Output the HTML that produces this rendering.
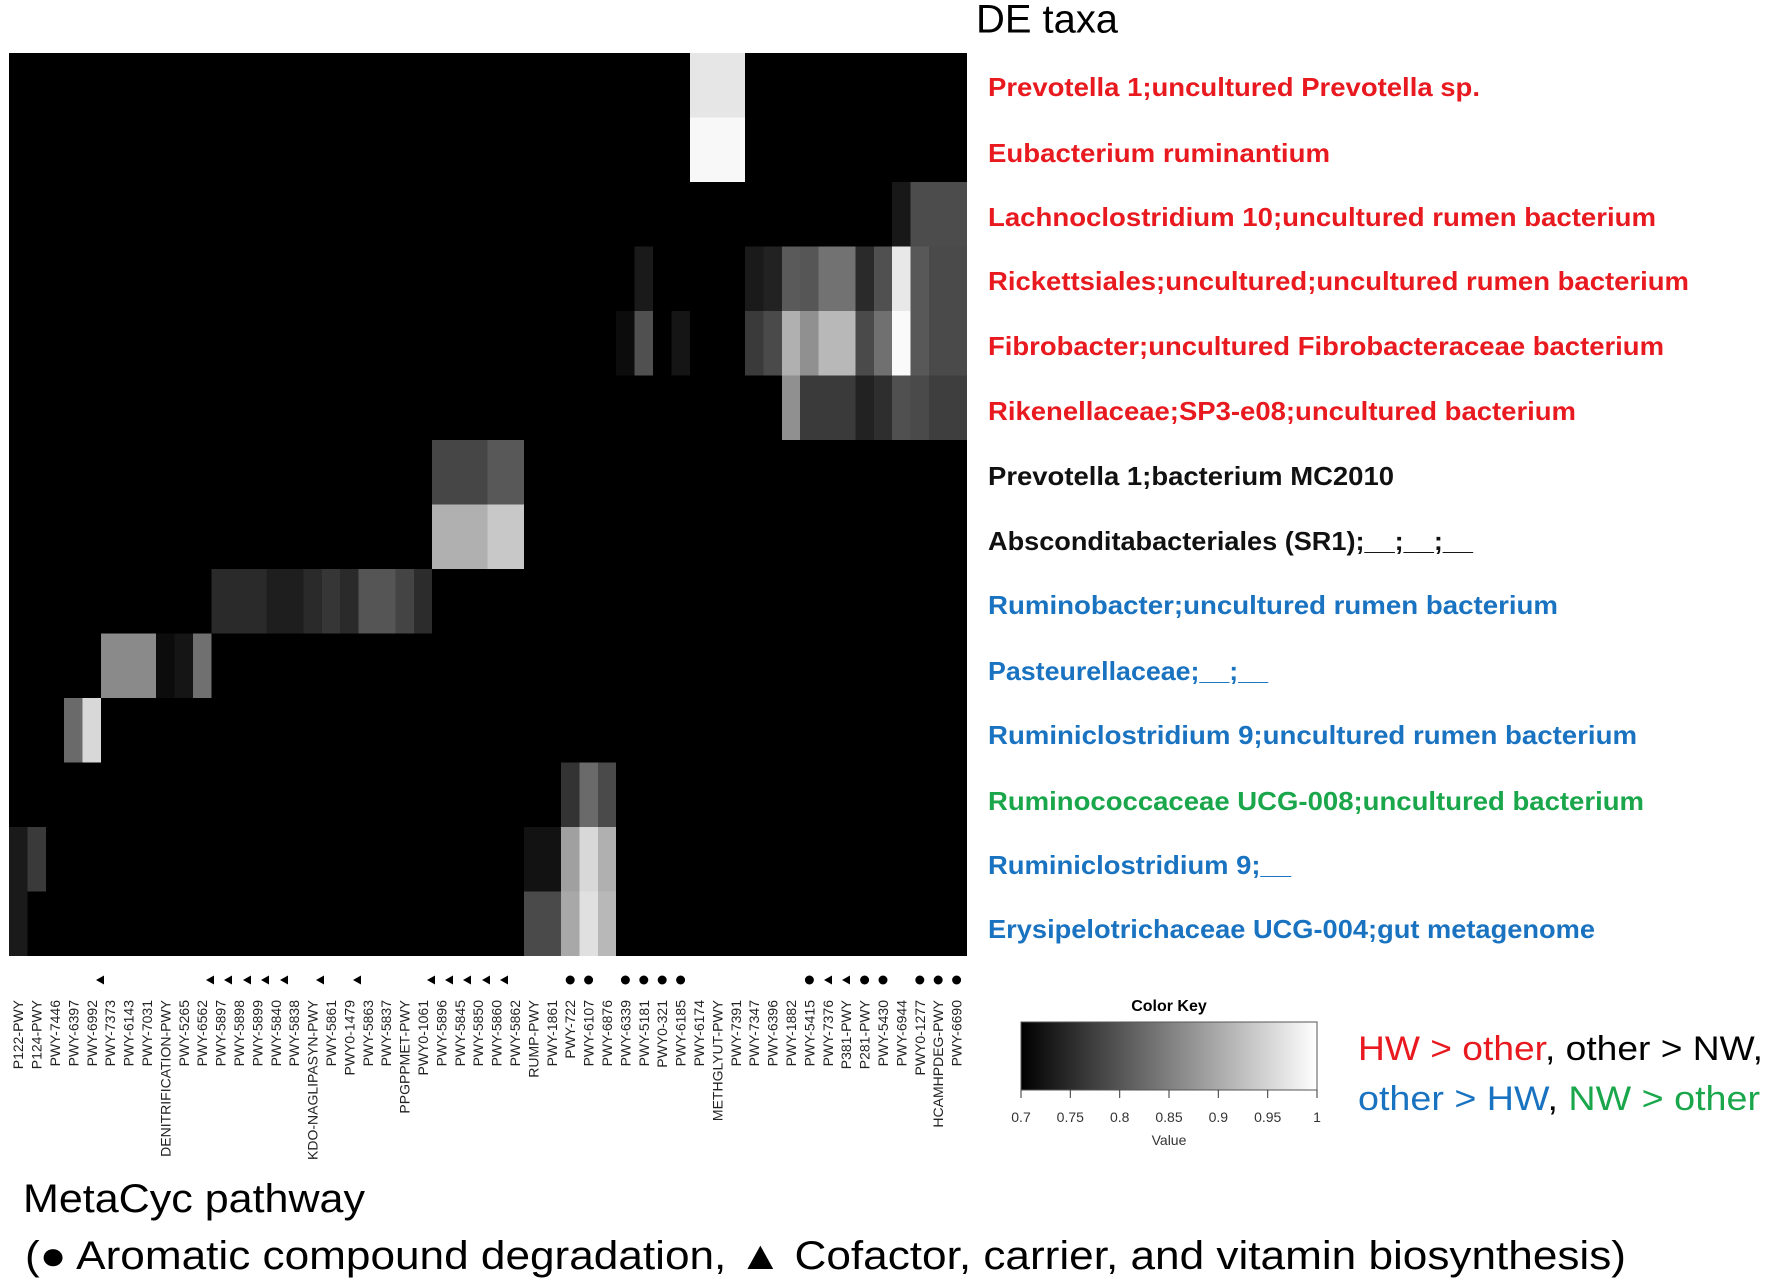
<!DOCTYPE html>
<html><head><meta charset="utf-8"><style>
html,body{margin:0;padding:0;background:#fff;}
svg{display:block;}
</style></head><body>
<svg width="1770" height="1282" viewBox="0 0 1770 1282" xmlns="http://www.w3.org/2000/svg" font-family="Liberation Sans, Arial, sans-serif">
<rect x="0" y="0" width="1770" height="1282" fill="#fff"/>
<rect x="9" y="53" width="958" height="903" fill="#000"/>
<g shape-rendering="crispEdges">
<rect x="689.8" y="53" width="55.2" height="64.5" fill="#e6e6e6"/>
<rect x="689.8" y="117.5" width="55.2" height="64.5" fill="#f8f8f8"/>
<rect x="892.2" y="182" width="18.4" height="64.5" fill="#181818"/>
<rect x="910.6" y="182" width="56.4" height="64.5" fill="#4c4c4c"/>
<rect x="634.6" y="246.5" width="18.4" height="64.5" fill="#1a1a1a"/>
<rect x="745" y="246.5" width="18.4" height="64.5" fill="#1a1a1a"/>
<rect x="763.4" y="246.5" width="18.4" height="64.5" fill="#222"/>
<rect x="781.8" y="246.5" width="18.4" height="64.5" fill="#5a5a5a"/>
<rect x="800.2" y="246.5" width="18.4" height="64.5" fill="#565656"/>
<rect x="818.6" y="246.5" width="36.8" height="64.5" fill="#727272"/>
<rect x="855.4" y="246.5" width="18.4" height="64.5" fill="#2a2a2a"/>
<rect x="873.8" y="246.5" width="18.4" height="64.5" fill="#505050"/>
<rect x="892.2" y="246.5" width="18.4" height="64.5" fill="#e8e8e8"/>
<rect x="910.6" y="246.5" width="18.4" height="64.5" fill="#585858"/>
<rect x="929" y="246.5" width="38" height="64.5" fill="#4a4a4a"/>
<rect x="616.2" y="311" width="18.4" height="64.5" fill="#0c0c0c"/>
<rect x="634.6" y="311" width="18.4" height="64.5" fill="#505050"/>
<rect x="671.4" y="311" width="18.4" height="64.5" fill="#151515"/>
<rect x="745" y="311" width="18.4" height="64.5" fill="#3a3a3a"/>
<rect x="763.4" y="311" width="18.4" height="64.5" fill="#4a4a4a"/>
<rect x="781.8" y="311" width="18.4" height="64.5" fill="#b0b0b0"/>
<rect x="800.2" y="311" width="18.4" height="64.5" fill="#909090"/>
<rect x="818.6" y="311" width="36.8" height="64.5" fill="#b8b8b8"/>
<rect x="855.4" y="311" width="18.4" height="64.5" fill="#4a4a4a"/>
<rect x="873.8" y="311" width="18.4" height="64.5" fill="#707070"/>
<rect x="892.2" y="311" width="18.4" height="64.5" fill="#fafafa"/>
<rect x="910.6" y="311" width="18.4" height="64.5" fill="#585858"/>
<rect x="929" y="311" width="38" height="64.5" fill="#4a4a4a"/>
<rect x="781.8" y="375.5" width="18.4" height="64.5" fill="#909090"/>
<rect x="800.2" y="375.5" width="55.2" height="64.5" fill="#3a3a3a"/>
<rect x="855.4" y="375.5" width="18.4" height="64.5" fill="#222"/>
<rect x="873.8" y="375.5" width="18.4" height="64.5" fill="#2e2e2e"/>
<rect x="892.2" y="375.5" width="18.4" height="64.5" fill="#505050"/>
<rect x="910.6" y="375.5" width="18.4" height="64.5" fill="#4a4a4a"/>
<rect x="929" y="375.5" width="38" height="64.5" fill="#3e3e3e"/>
<rect x="432.2" y="440" width="55.2" height="64.5" fill="#464646"/>
<rect x="487.4" y="440" width="36.8" height="64.5" fill="#585858"/>
<rect x="432.2" y="504.5" width="55.2" height="64.5" fill="#b0b0b0"/>
<rect x="487.4" y="504.5" width="36.8" height="64.5" fill="#c8c8c8"/>
<rect x="211.4" y="569" width="55.2" height="64.5" fill="#2a2a2a"/>
<rect x="266.6" y="569" width="36.8" height="64.5" fill="#1e1e1e"/>
<rect x="303.4" y="569" width="18.4" height="64.5" fill="#2a2a2a"/>
<rect x="321.8" y="569" width="18.4" height="64.5" fill="#363636"/>
<rect x="340.2" y="569" width="18.4" height="64.5" fill="#2a2a2a"/>
<rect x="358.6" y="569" width="36.8" height="64.5" fill="#555"/>
<rect x="395.4" y="569" width="18.4" height="64.5" fill="#444"/>
<rect x="413.8" y="569" width="18.4" height="64.5" fill="#2c2c2c"/>
<rect x="101" y="633.5" width="55.2" height="64.5" fill="#8a8a8a"/>
<rect x="156.2" y="633.5" width="18.4" height="64.5" fill="#0c0c0c"/>
<rect x="174.6" y="633.5" width="18.4" height="64.5" fill="#151515"/>
<rect x="193" y="633.5" width="18.4" height="64.5" fill="#707070"/>
<rect x="64.2" y="698" width="18.4" height="64.5" fill="#6a6a6a"/>
<rect x="82.6" y="698" width="18.4" height="64.5" fill="#d8d8d8"/>
<rect x="561" y="762.5" width="18.4" height="64.5" fill="#333"/>
<rect x="579.4" y="762.5" width="18.4" height="64.5" fill="#6a6a6a"/>
<rect x="597.8" y="762.5" width="18.4" height="64.5" fill="#4a4a4a"/>
<rect x="9" y="827" width="18.4" height="64.5" fill="#1a1a1a"/>
<rect x="27.4" y="827" width="18.4" height="64.5" fill="#3a3a3a"/>
<rect x="524.2" y="827" width="36.8" height="64.5" fill="#121212"/>
<rect x="561" y="827" width="18.4" height="64.5" fill="#a0a0a0"/>
<rect x="579.4" y="827" width="18.4" height="64.5" fill="#d8d8d8"/>
<rect x="597.8" y="827" width="18.4" height="64.5" fill="#b0b0b0"/>
<rect x="9" y="891.5" width="18.4" height="64.5" fill="#1a1a1a"/>
<rect x="524.2" y="891.5" width="36.8" height="64.5" fill="#4a4a4a"/>
<rect x="561" y="891.5" width="18.4" height="64.5" fill="#a8a8a8"/>
<rect x="579.4" y="891.5" width="18.4" height="64.5" fill="#e0e0e0"/>
<rect x="597.8" y="891.5" width="18.4" height="64.5" fill="#b8b8b8"/>
</g>

<g fill="#000">
<polygon points="96,980 104,975.5 104,984.5"/>
<polygon points="206,980 214,975.5 214,984.5"/>
<polygon points="224,980 232,975.5 232,984.5"/>
<polygon points="243,980 251,975.5 251,984.5"/>
<polygon points="261,980 269,975.5 269,984.5"/>
<polygon points="280,980 288,975.5 288,984.5"/>
<polygon points="316,980 324,975.5 324,984.5"/>
<polygon points="353,980 361,975.5 361,984.5"/>
<polygon points="427,980 435,975.5 435,984.5"/>
<polygon points="445,980 453,975.5 453,984.5"/>
<polygon points="463,980 471,975.5 471,984.5"/>
<polygon points="482,980 490,975.5 490,984.5"/>
<polygon points="500,980 508,975.5 508,984.5"/>
<circle cx="570.2" cy="980" r="4.5"/>
<circle cx="588.6" cy="980" r="4.5"/>
<circle cx="625.4" cy="980" r="4.5"/>
<circle cx="643.8" cy="980" r="4.5"/>
<circle cx="662.2" cy="980" r="4.5"/>
<circle cx="680.6" cy="980" r="4.5"/>
<circle cx="809.4" cy="980" r="4.5"/>
<polygon points="824,980 832,975.5 832,984.5"/>
<polygon points="842,980 850,975.5 850,984.5"/>
<circle cx="864.6" cy="980" r="4.5"/>
<circle cx="883" cy="980" r="4.5"/>
<circle cx="919.8" cy="980" r="4.5"/>
<circle cx="938.2" cy="980" r="4.5"/>
<circle cx="956.6" cy="980" r="4.5"/>
</g>

<g font-size="14" fill="#222" text-anchor="end">
<text transform="translate(23.2,1000) rotate(-90)">P122-PWY</text>
<text transform="translate(41.6,1000) rotate(-90)">P124-PWY</text>
<text transform="translate(60,1000) rotate(-90)">PWY-7446</text>
<text transform="translate(78.4,1000) rotate(-90)">PWY-6397</text>
<text transform="translate(96.8,1000) rotate(-90)">PWY-6992</text>
<text transform="translate(115.2,1000) rotate(-90)">PWY-7373</text>
<text transform="translate(133.6,1000) rotate(-90)">PWY-6143</text>
<text transform="translate(152,1000) rotate(-90)">PWY-7031</text>
<text transform="translate(170.4,1000) rotate(-90)">DENITRIFICATION-PWY</text>
<text transform="translate(188.8,1000) rotate(-90)">PWY-5265</text>
<text transform="translate(207.2,1000) rotate(-90)">PWY-6562</text>
<text transform="translate(225.6,1000) rotate(-90)">PWY-5897</text>
<text transform="translate(244,1000) rotate(-90)">PWY-5898</text>
<text transform="translate(262.4,1000) rotate(-90)">PWY-5899</text>
<text transform="translate(280.8,1000) rotate(-90)">PWY-5840</text>
<text transform="translate(299.2,1000) rotate(-90)">PWY-5838</text>
<text transform="translate(317.6,1000) rotate(-90)">KDO-NAGLIPASYN-PWY</text>
<text transform="translate(336,1000) rotate(-90)">PWY-5861</text>
<text transform="translate(354.4,1000) rotate(-90)">PWY0-1479</text>
<text transform="translate(372.8,1000) rotate(-90)">PWY-5863</text>
<text transform="translate(391.2,1000) rotate(-90)">PWY-5837</text>
<text transform="translate(409.6,1000) rotate(-90)">PPGPPMET-PWY</text>
<text transform="translate(428,1000) rotate(-90)">PWY0-1061</text>
<text transform="translate(446.4,1000) rotate(-90)">PWY-5896</text>
<text transform="translate(464.8,1000) rotate(-90)">PWY-5845</text>
<text transform="translate(483.2,1000) rotate(-90)">PWY-5850</text>
<text transform="translate(501.6,1000) rotate(-90)">PWY-5860</text>
<text transform="translate(520,1000) rotate(-90)">PWY-5862</text>
<text transform="translate(538.4,1000) rotate(-90)">RUMP-PWY</text>
<text transform="translate(556.8,1000) rotate(-90)">PWY-1861</text>
<text transform="translate(575.2,1000) rotate(-90)">PWY-722</text>
<text transform="translate(593.6,1000) rotate(-90)">PWY-6107</text>
<text transform="translate(612,1000) rotate(-90)">PWY-6876</text>
<text transform="translate(630.4,1000) rotate(-90)">PWY-6339</text>
<text transform="translate(648.8,1000) rotate(-90)">PWY-5181</text>
<text transform="translate(667.2,1000) rotate(-90)">PWY0-321</text>
<text transform="translate(685.6,1000) rotate(-90)">PWY-6185</text>
<text transform="translate(704,1000) rotate(-90)">PWY-6174</text>
<text transform="translate(722.4,1000) rotate(-90)">METHGLYUT-PWY</text>
<text transform="translate(740.8,1000) rotate(-90)">PWY-7391</text>
<text transform="translate(759.2,1000) rotate(-90)">PWY-7347</text>
<text transform="translate(777.6,1000) rotate(-90)">PWY-6396</text>
<text transform="translate(796,1000) rotate(-90)">PWY-1882</text>
<text transform="translate(814.4,1000) rotate(-90)">PWY-5415</text>
<text transform="translate(832.8,1000) rotate(-90)">PWY-7376</text>
<text transform="translate(851.2,1000) rotate(-90)">P381-PWY</text>
<text transform="translate(869.6,1000) rotate(-90)">P281-PWY</text>
<text transform="translate(888,1000) rotate(-90)">PWY-5430</text>
<text transform="translate(906.4,1000) rotate(-90)">PWY-6944</text>
<text transform="translate(924.8,1000) rotate(-90)">PWY0-1277</text>
<text transform="translate(943.2,1000) rotate(-90)">HCAMHPDEG-PWY</text>
<text transform="translate(961.6,1000) rotate(-90)">PWY-6690</text>
</g>

<text x="976" y="22" font-size="40" fill="#000" dominant-baseline="middle" textLength="142" lengthAdjust="spacingAndGlyphs">DE taxa</text>
<g font-size="26" font-weight="bold" dominant-baseline="middle">
<text x="988" y="89" fill="#e8191f" textLength="492" lengthAdjust="spacingAndGlyphs">Prevotella 1;uncultured Prevotella sp.</text>
<text x="988" y="155" fill="#e8191f" textLength="342" lengthAdjust="spacingAndGlyphs">Eubacterium ruminantium</text>
<text x="988" y="219" fill="#e8191f" textLength="668" lengthAdjust="spacingAndGlyphs">Lachnoclostridium 10;uncultured rumen bacterium</text>
<text x="988" y="283" fill="#e8191f" textLength="701" lengthAdjust="spacingAndGlyphs">Rickettsiales;uncultured;uncultured rumen bacterium</text>
<text x="988" y="348" fill="#e8191f" textLength="676" lengthAdjust="spacingAndGlyphs">Fibrobacter;uncultured Fibrobacteraceae bacterium</text>
<text x="988" y="413" fill="#e8191f" textLength="588" lengthAdjust="spacingAndGlyphs">Rikenellaceae;SP3-e08;uncultured bacterium</text>
<text x="988" y="478" fill="#111" textLength="406" lengthAdjust="spacingAndGlyphs">Prevotella 1;bacterium MC2010</text>
<text x="988" y="543" fill="#111" textLength="485" lengthAdjust="spacingAndGlyphs">Absconditabacteriales (SR1);__;__;__</text>
<text x="988" y="607" fill="#1a73c0" textLength="570" lengthAdjust="spacingAndGlyphs">Ruminobacter;uncultured rumen bacterium</text>
<text x="988" y="673" fill="#1a73c0" textLength="280" lengthAdjust="spacingAndGlyphs">Pasteurellaceae;__;__</text>
<text x="988" y="737" fill="#1a73c0" textLength="649" lengthAdjust="spacingAndGlyphs">Ruminiclostridium 9;uncultured rumen bacterium</text>
<text x="988" y="803" fill="#1aa64a" textLength="656" lengthAdjust="spacingAndGlyphs">Ruminococcaceae UCG-008;uncultured bacterium</text>
<text x="988" y="867" fill="#1a73c0" textLength="303" lengthAdjust="spacingAndGlyphs">Ruminiclostridium 9;__</text>
<text x="988" y="931" fill="#1a73c0" textLength="607" lengthAdjust="spacingAndGlyphs">Erysipelotrichaceae UCG-004;gut metagenome</text>
</g>

<defs><linearGradient id="g" x1="0" x2="1" y1="0" y2="0">
<stop offset="0" stop-color="#000"/><stop offset="1" stop-color="#fff"/></linearGradient></defs>
<text x="1169" y="1011" font-size="16" font-weight="bold" text-anchor="middle">Color Key</text>
<rect x="1021" y="1022" width="296" height="68" fill="url(#g)" stroke="#555" stroke-width="1"/>
<g stroke="#333" stroke-width="1">
<line x1="1021" y1="1090" x2="1021" y2="1098"/><line x1="1070.3" y1="1090" x2="1070.3" y2="1098"/>
<line x1="1119.7" y1="1090" x2="1119.7" y2="1098"/><line x1="1169" y1="1090" x2="1169" y2="1098"/>
<line x1="1218.3" y1="1090" x2="1218.3" y2="1098"/><line x1="1267.7" y1="1090" x2="1267.7" y2="1098"/>
<line x1="1317" y1="1090" x2="1317" y2="1098"/>
</g>
<g font-size="14" fill="#333" text-anchor="middle">
<text x="1021" y="1122">0.7</text><text x="1070.3" y="1122">0.75</text><text x="1119.7" y="1122">0.8</text>
<text x="1169" y="1122">0.85</text><text x="1218.3" y="1122">0.9</text><text x="1267.7" y="1122">0.95</text>
<text x="1317" y="1122">1</text>
<text x="1169" y="1145">Value</text>
</g>

<text x="1358" y="1060" font-size="34" textLength="405" lengthAdjust="spacingAndGlyphs"><tspan fill="#e8191f">HW &gt; other</tspan><tspan fill="#000">, other &gt; NW,</tspan></text>
<text x="1358" y="1110" font-size="34" textLength="402" lengthAdjust="spacingAndGlyphs"><tspan fill="#1a73c0">other &gt; HW</tspan><tspan fill="#000">, </tspan><tspan fill="#1aa64a">NW &gt; other</tspan></text>

<text x="23" y="1212" font-size="40" fill="#000" textLength="342" lengthAdjust="spacingAndGlyphs">MetaCyc pathway</text>
<text x="25" y="1269" font-size="40" fill="#000" textLength="1601" lengthAdjust="spacingAndGlyphs">(● Aromatic compound degradation, ▲ Cofactor, carrier, and vitamin biosynthesis)</text>
</svg>
</body></html>
